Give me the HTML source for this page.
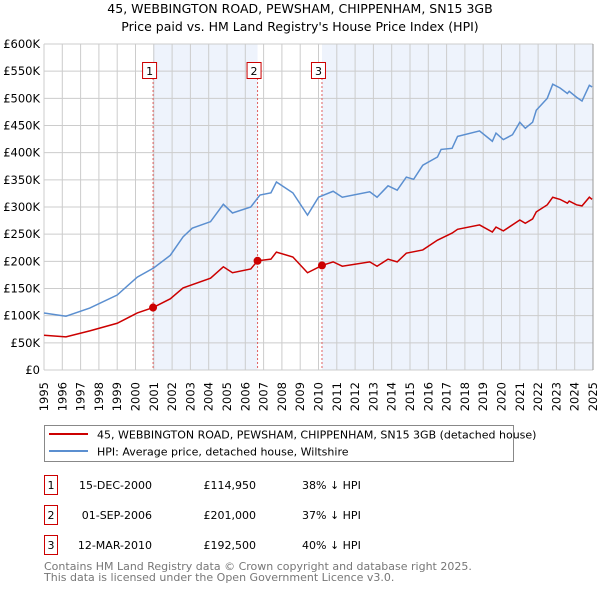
<!DOCTYPE html>
<html><head><meta charset="utf-8"><style>
body{margin:0;background:#fff;width:600px;height:590px;overflow:hidden;font-family:"DejaVu Sans","Liberation Sans",sans-serif;}
svg text{font-family:"DejaVu Sans","Liberation Sans",sans-serif;}
</style></head><body>
<svg id="chart" width="600" height="590" xmlns="http://www.w3.org/2000/svg">
<text x="300" y="13" text-anchor="middle" font-size="12.5" fill="#000">45, WEBBINGTON ROAD, PEWSHAM, CHIPPENHAM, SN15 3GB</text>
<text x="300" y="31" text-anchor="middle" font-size="12.5" fill="#000">Price paid vs. HM Land Registry's House Price Index (HPI)</text>
<g id="plot"></g>
<g>
<rect x="44.5" y="425.5" width="469" height="36" fill="#fff" stroke="#888"/>
<line x1="49" y1="434" x2="88" y2="434" stroke="#cc0000" stroke-width="2"/>
<text x="97" y="438.5" font-size="11">45, WEBBINGTON ROAD, PEWSHAM, CHIPPENHAM, SN15 3GB (detached house)</text>
<line x1="49" y1="451" x2="88" y2="451" stroke="#5b8fd0" stroke-width="2"/>
<text x="97" y="455.5" font-size="11">HPI: Average price, detached house, Wiltshire</text>
</g>
<g font-size="11">
<rect x="44.5" y="475.5" width="13" height="19" fill="#fff" stroke="#cc0000"/>
<text x="51" y="489" text-anchor="middle">1</text>
<text x="152" y="489" text-anchor="end">15-DEC-2000</text>
<text x="256" y="489" text-anchor="end">£114,950</text>
<text x="302" y="489">38% ↓ HPI</text>
<rect x="44.5" y="505.5" width="13" height="19" fill="#fff" stroke="#cc0000"/>
<text x="51" y="519" text-anchor="middle">2</text>
<text x="152" y="519" text-anchor="end">01-SEP-2006</text>
<text x="256" y="519" text-anchor="end">£201,000</text>
<text x="302" y="519">37% ↓ HPI</text>
<rect x="44.5" y="535.5" width="13" height="19" fill="#fff" stroke="#cc0000"/>
<text x="51" y="549" text-anchor="middle">3</text>
<text x="152" y="549" text-anchor="end">12-MAR-2010</text>
<text x="256" y="549" text-anchor="end">£192,500</text>
<text x="302" y="549">40% ↓ HPI</text>
</g>
<text x="44" y="570" font-size="11" fill="#777">Contains HM Land Registry data © Crown copyright and database right 2025.</text>
<text x="44" y="581" font-size="11" fill="#777">This data is licensed under the Open Government Licence v3.0.</text>
</svg>
<script>
const yTicks=[0,50,100,150,200,250,300,350,400,450,500,550,600];
const yTickLabels=["£0","£50K","£100K","£150K","£200K","£250K","£300K","£350K","£400K","£450K","£500K","£550K","£600K"];
const xYears=[1995,1996,1997,1998,1999,2000,2001,2002,2003,2004,2005,2006,2007,2008,2009,2010,2011,2012,2013,2014,2015,2016,2017,2018,2019,2020,2021,2022,2023,2024,2025];
const hpiDates=[1995.0,1996.2,1997.5,1999.0,2000.1,2001.0,2001.9,2002.6,2003.1,2004.1,2004.8,2005.3,2006.3,2006.8,2007.4,2007.7,2008.6,2009.4,2010.0,2010.8,2011.3,2012.8,2013.2,2013.8,2014.3,2014.8,2015.2,2015.7,2016.5,2016.7,2017.3,2017.6,2018.8,2019.5,2019.7,2020.1,2020.6,2021.0,2021.3,2021.7,2021.9,2022.5,2022.8,2023.2,2023.6,2023.7,2024.1,2024.4,2024.8,2024.95];
const hpiValues=[105,99,114,138,171,188,211,245,261,273,305,289,300,322,326,346,326,285,318,329,318,328,318,339,331,355,351,377,392,406,408,430,440,421,436,424,433,456,445,456,478,500,526,519,509,513,502,495,524,521];
const priceDates=[1995.0,1996.2,1997.5,1999.0,2000.1,2000.96,2001.9,2002.6,2004.1,2004.8,2005.3,2006.3,2006.67,2007.4,2007.7,2008.6,2009.4,2010.19,2010.8,2011.3,2012.8,2013.2,2013.8,2014.3,2014.8,2015.7,2016.5,2017.3,2017.6,2018.8,2019.5,2019.7,2020.1,2021.0,2021.3,2021.7,2021.9,2022.5,2022.8,2023.2,2023.6,2023.7,2024.1,2024.4,2024.8,2024.95];
const priceValues=[64,61,72,86,105,114.95,131,151,169,190,179,186,201,204,217,208,179,192.5,199,191,199,191,204,199,215,221,239,252,259,267,254,263,256,276,270,278,291,304,318,314,307,311,304,302,318,314];
const saleDates=[2000.96,2006.67,2010.19];
const saleValues=[114.95,201,192.5];
const saleLabels=["1","2","3"];

const X0=44,X1=593,Y0=370,Y1=44;
const xs=y=>X0+(y-1995)/(2025-1995)*(X1-X0);
const ys=v=>Y0-v/600*(Y0-Y1);
const NS="http://www.w3.org/2000/svg";
const plot=document.getElementById('plot');
function mk(tag,attrs){const e=document.createElementNS(NS,tag);for(const k in attrs)e.setAttribute(k,attrs[k]);plot.appendChild(e);return e;}

let s1=mk('rect',{x:xs(saleDates[0]),y:Y1,width:xs(saleDates[1])-xs(saleDates[0]),height:Y0-Y1,fill:'#eef3fc'});


let s3=mk('rect',{x:xs(saleDates[2]),y:Y1,width:X1-xs(saleDates[2]),height:Y0-Y1,fill:'#eef3fc'});



yTicks.forEach((t,i)=>{
  let g=mk('line',{x1:X0,x2:X1,y1:ys(t),y2:ys(t),stroke:'#cccccc','stroke-width':1});
  
  
  let l=mk('text',{x:X0-4,y:ys(t)+4,'text-anchor':'end','font-size':11.5,fill:'#000'});
  l.textContent=yTickLabels[i];
  
  
});
xYears.forEach(yr=>{
  let g=mk('line',{x1:xs(yr),x2:xs(yr),y1:Y1,y2:Y0,stroke:'#cccccc','stroke-width':1});
  
  
  const lx=xs(yr)+4, ly=382;
  let l=mk('text',{x:lx,y:ly,'text-anchor':'end','font-size':11.5,fill:'#000',transform:'rotate(-90 '+lx+' '+ly+')'});
  l.textContent=yr;
  
  
});
let ax=mk('line',{x1:X1,x2:X1,y1:Y1,y2:Y0,stroke:'#999','stroke-width':1});



saleDates.forEach((d,i)=>{
  let v=mk('line',{x1:xs(d),x2:xs(d),y1:Y1+34,y2:Y0,stroke:'#e06060','stroke-width':1,'stroke-dasharray':'2,2'});
  
  
  let b=mk('rect',{x:xs(d)-10.5,y:62.5,width:14,height:16,fill:'#fff',stroke:'#cc0000'});
  
  
  let t=mk('text',{x:xs(d)-3.5,y:75,'text-anchor':'middle','font-size':11});
  t.textContent=saleLabels[i];
  
  
});

let hp=mk('polyline',{points:hpiDates.map((d,i)=>xs(d)+','+ys(hpiValues[i])).join(' '),fill:'none',stroke:'#5b8fd0','stroke-width':1.5});


let pp=mk('polyline',{points:priceDates.map((d,i)=>xs(d)+','+ys(priceValues[i])).join(' '),fill:'none',stroke:'#cc0000','stroke-width':1.5});


saleDates.forEach((d,i)=>{
  let c=mk('circle',{cx:xs(d),cy:ys(saleValues[i]),r:4,fill:'#cc0000'});
  
  
});
</script>
</body></html>
